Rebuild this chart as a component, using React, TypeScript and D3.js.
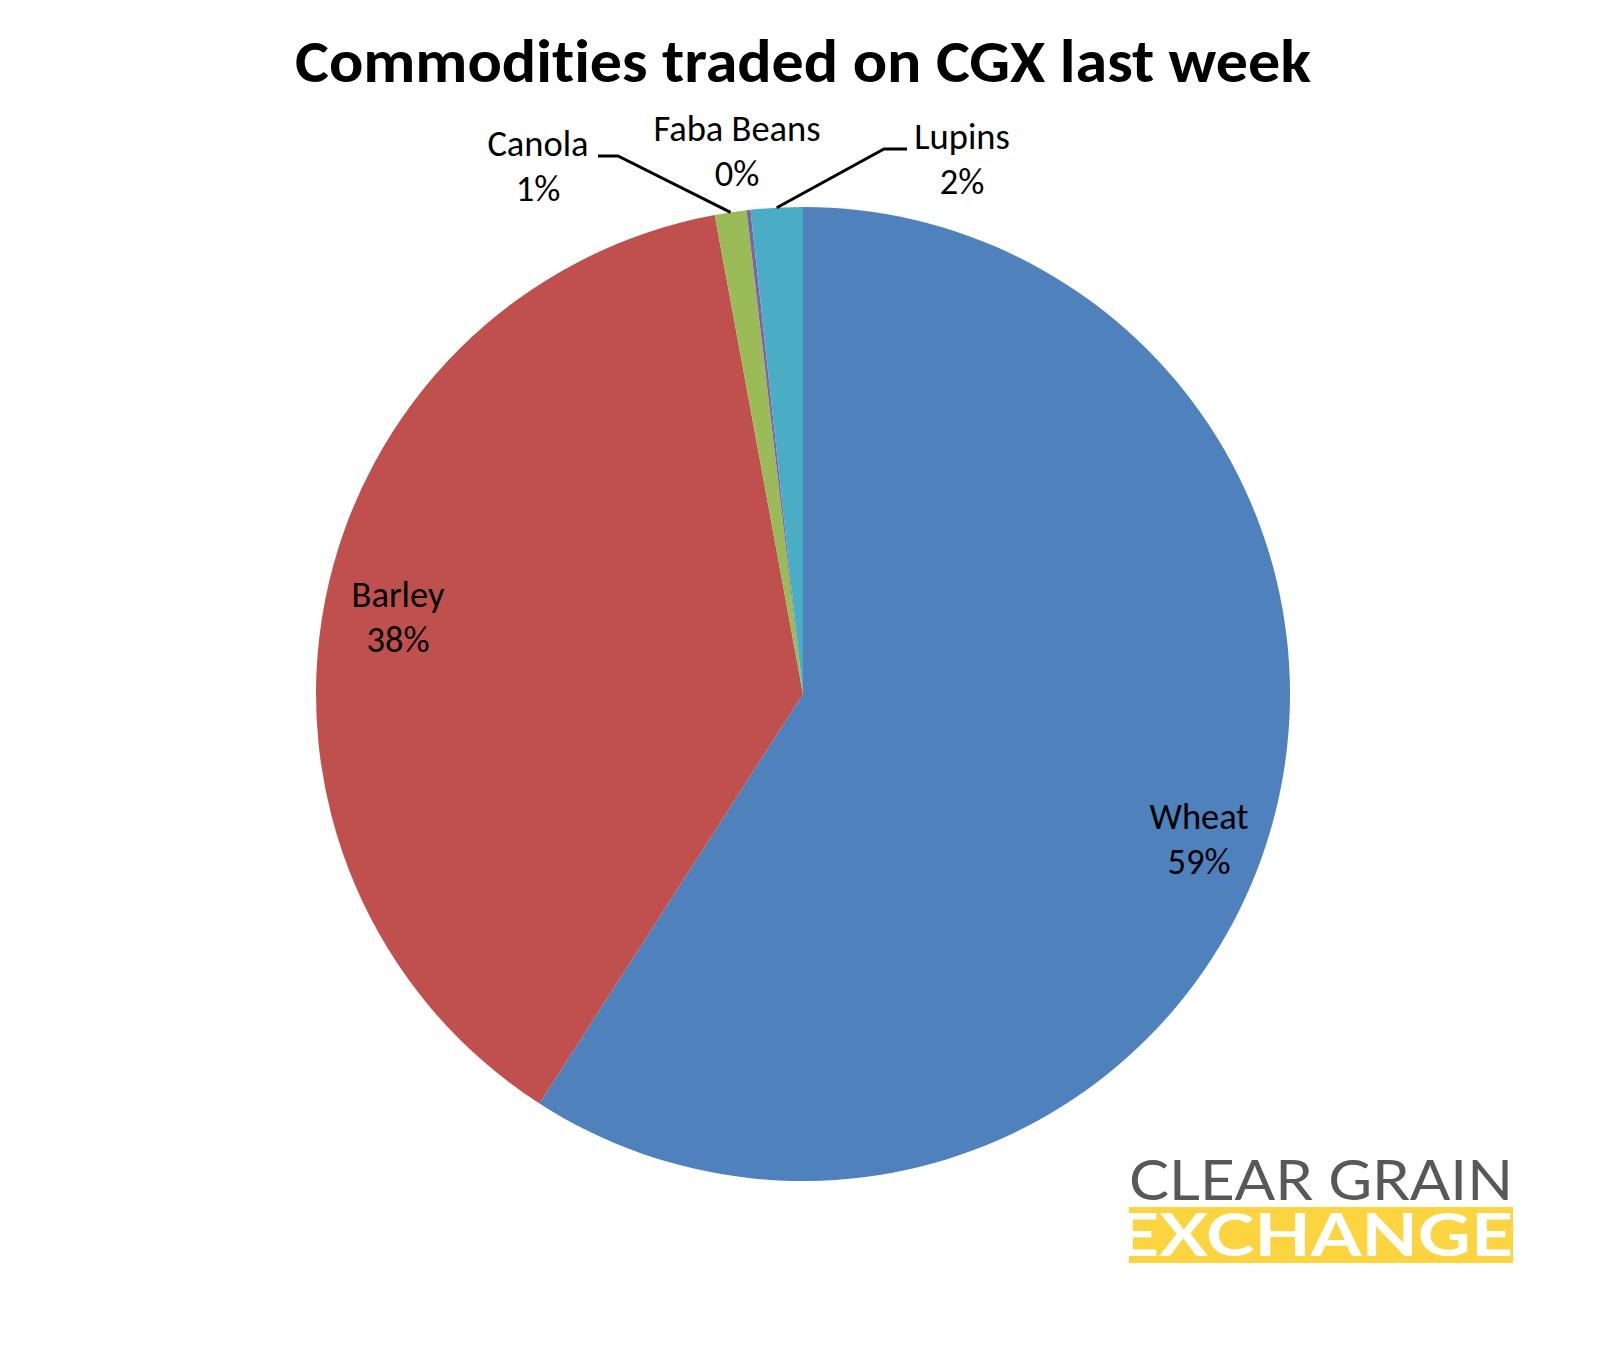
import React from "react";
import * as d3 from "d3";

const categories = ["Wheat", "Barley", "Canola", "Faba Beans", "Lupins"];
const shares = [59.1, 38.0, 1.05, 0.13, 1.72];
const colors = ["#4F81BD", "#C0504D", "#9BBB59", "#8064A2", "#4BACC6"];
const title = "Commodities traded on CGX last week";

// layout (label text-block anchors, full-size px)
const W = 1608, H = 1350;
const cx = 803, cy = 694, R = 487;
const labelAnchors: Record<string, { x: number; y: number }> = {
  Wheat: { x: 1199, y: 829 },
  Barley: { x: 398, y: 607 },
  Canola: { x: 538, y: 156 },
  "Faba Beans": { x: 737, y: 141 },
  Lupins: { x: 962, y: 149 },
};
const leaders: Record<string, [number, number][]> = {
  Canola: [[598, 156], [618, 156]],
  Lupins: [[907, 149], [884, 149]],
};

export default function App() {
  const data = categories.map((c, i) => ({ name: c, value: shares[i], color: colors[i] }));
  const total = d3.sum(shares);
  const pie = d3.pie<any>().sort(null).value((d) => d.value);
  const arcs = pie(data);
  const arc = d3.arc<any>().innerRadius(0).outerRadius(R);
  const font = "Carlito, Calibri, Lato, sans-serif";
  const fmt = (v: number) => `${Math.round((v / total) * 100)}%`;
  const noLig = { fontVariantLigatures: "none" as const, fontFeatureSettings: '"liga" 0, "clig" 0' };

  return (
    <svg width={W} height={H} style={{ position: "absolute", left: 0, top: 0, background: "#fff" }}>
      <rect x={0} y={0} width={W} height={H} fill="#fff" />
      <text x={295} y={82} fontFamily={font} fontWeight={700} fontSize={60} fill="#000"
        textLength={1016} lengthAdjust="spacingAndGlyphs" style={noLig}>
        {title}
      </text>
      <g transform={`translate(${cx},${cy})`}>
        {arcs.map((a) => (
          <path key={a.data.name} d={arc(a) || ""} fill={a.data.color} />
        ))}
      </g>
      {arcs.map((a) => {
        const lp = leaders[a.data.name];
        if (!lp) return null;
        const ang = (a.startAngle + a.endAngle) / 2;
        const end: [number, number] = [cx + R * Math.sin(ang), cy - R * Math.cos(ang)];
        const pts = [...lp, end];
        return (
          <path key={"l" + a.data.name} d={d3.line()(pts) || ""} fill="none" stroke="#000" strokeWidth={3} />
        );
      })}
      {arcs.map((a) => {
        const p = labelAnchors[a.data.name];
        return (
          <text key={"t" + a.data.name} x={p.x} y={p.y} textAnchor="middle" fontFamily={font} fontSize={36.5} fill="#000" style={noLig}>
            <tspan x={p.x}>{a.data.name}</tspan>
            <tspan x={p.x} dy={45}>{fmt(a.data.value)}</tspan>
          </text>
        );
      })}
      <g>
        <text x={1129} y={1200} fontFamily="Lato, sans-serif" fontSize={56} fill="#58585A" textLength={384} lengthAdjust="spacingAndGlyphs">
          CLEAR GRAIN
        </text>
        <rect x={1129} y={1207} width={384} height={56} fill="#FCD440" />
        <text x={1117} y={1256} fontFamily="Lato, sans-serif" fontWeight={700} fontSize={60} fill="#fff" textLength={396} lengthAdjust="spacingAndGlyphs">
          EXCHANGE
        </text>
      </g>
    </svg>
  );
}
